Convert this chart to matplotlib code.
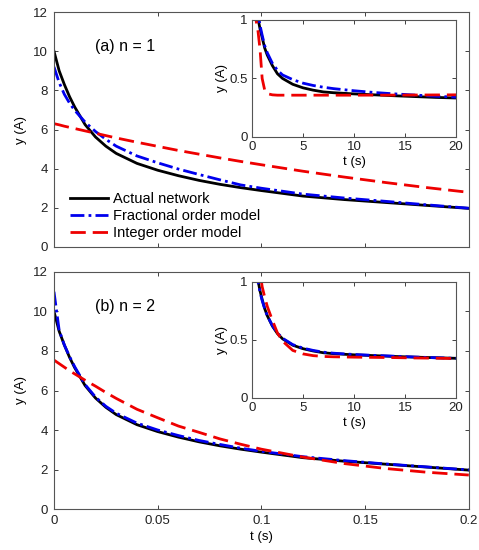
import numpy as np
import matplotlib
matplotlib.use('Agg')
from matplotlib import pyplot as plt

plt.rcParams['font.family'] = ['Liberation Sans', 'DejaVu Sans']
plt.rcParams['font.size'] = 9.5

# main panels, t in seconds
t = [0, 0.0025, 0.005, 0.0075, 0.01, 0.015, 0.02, 0.025, 0.03, 0.04, 0.05,
     0.06, 0.07, 0.08, 0.09, 0.1, 0.12, 0.14, 0.16, 0.18, 0.2]
actual = [10.0, 9.0, 8.3, 7.68, 7.15, 6.25, 5.62, 5.15, 4.78, 4.27, 3.92,
          3.64, 3.4, 3.2, 3.03, 2.88, 2.6, 2.42, 2.27, 2.12, 1.97]
frac1 = [9.2, 8.4, 7.8, 7.35, 6.98, 6.38, 5.9, 5.5, 5.15, 4.65, 4.3,
         3.98, 3.7, 3.43, 3.17, 3.0, 2.7, 2.5, 2.33, 2.15, 1.98]
int1 = [6.3, 6.24, 6.17, 6.11, 6.05, 5.93, 5.81, 5.69, 5.57, 5.35, 5.14,
        4.93, 4.74, 4.55, 4.37, 4.2, 3.87, 3.57, 3.29, 3.03, 2.79]
frac2 = [11.0, 9.05, 8.3, 7.72, 7.2, 6.3, 5.67, 5.2, 4.85, 4.35, 4.0,
         3.72, 3.47, 3.27, 3.08, 2.92, 2.65, 2.45, 2.28, 2.13, 1.98]
int2 = [7.54, 7.36, 7.18, 7.0, 6.84, 6.52, 6.22, 5.9, 5.6, 5.05, 4.62,
        4.2, 3.88, 3.55, 3.28, 3.03, 2.63, 2.3, 2.05, 1.86, 1.72]

# insets, t in seconds
ti = [0.5, 0.6, 0.8, 1.0, 1.25, 1.5, 2, 2.5, 3, 4, 5, 6, 7, 8, 10, 12, 14,
      16, 18, 20]
actual_i1 = [1.1, 1.01, 0.92, 0.85, 0.76, 0.7, 0.61, 0.54, 0.5, 0.45, 0.42,
             0.4, 0.385, 0.378, 0.368, 0.36, 0.352, 0.345, 0.338, 0.333]
frac_i1 = [1.15, 1.06, 0.95, 0.87, 0.78, 0.72, 0.63, 0.57, 0.53, 0.49, 0.46,
           0.44, 0.425, 0.413, 0.395, 0.38, 0.368, 0.358, 0.348, 0.34]
ti_int1 = [0.3, 0.4, 0.6, 0.8, 1.0, 1.25, 1.5, 2, 2.5, 3, 5, 10, 15, 20]
int_i1 = [1.1, 1.0, 0.9, 0.74, 0.5, 0.4, 0.37, 0.36, 0.357, 0.357, 0.357,
          0.357, 0.358, 0.36]
actual_i2 = [1.1, 1.01, 0.92, 0.85, 0.77, 0.71, 0.62, 0.555, 0.51, 0.455,
             0.425, 0.405, 0.39, 0.382, 0.372, 0.365, 0.358, 0.352, 0.347,
             0.342]
frac_i2 = [1.1, 1.0, 0.91, 0.84, 0.77, 0.71, 0.625, 0.56, 0.515, 0.46,
           0.43, 0.41, 0.395, 0.386, 0.375, 0.367, 0.36, 0.353, 0.347, 0.342]
int_i2 = [1.2, 1.15, 1.08, 0.96, 0.87, 0.79, 0.67, 0.56, 0.49, 0.41, 0.38,
          0.365, 0.358, 0.355, 0.352, 0.35, 0.348, 0.345, 0.343, 0.34]

lw = 2
red_dash = (5.5, 2.5)
blue_dd = (5, 1.5, 1, 1.5)


def style(ax):
    ax.tick_params(direction='in', top=True, right=True, length=3,
                   width=0.6, colors='#222222', labelsize=9.5, pad=4.5)
    for s in ax.spines.values():
        s.set_color('#555555')
        s.set_linewidth(0.8)


fig = plt.figure(figsize=(4.79, 5.5), dpi=100)

main_pos = [[0.1127, 0.551, 0.866, 0.427], [0.1127, 0.0745, 0.866, 0.431]]
inset_pos = [[0.526, 0.751, 0.426, 0.2127], [0.526, 0.2764, 0.426, 0.2109]]
mains = [(actual, frac1, int1, '(a) n = 1'), (actual, frac2, int2, '(b) n = 2')]
insets = [(ti, actual_i1, frac_i1, ti_int1, int_i1),
          (ti, actual_i2, frac_i2, ti, int_i2)]

for k in range(2):
    ya, yf, yi, lab = mains[k]
    ax = fig.add_axes(main_pos[k])
    ax.plot(t, ya, color='k', lw=lw, label='Actual network')
    ax.plot(t, yf, color='#0000ee', lw=lw, dashes=blue_dd,
            label='Fractional order model')
    ax.plot(t, yi, color='#ee0000', lw=lw, dashes=red_dash,
            label='Integer order model')
    ax.set_xlim(0, 0.2)
    ax.set_ylim(0, 12)
    ax.set_xticks([0, 0.05, 0.1, 0.15, 0.2])
    ax.set_yticks([0, 2, 4, 6, 8, 10, 12])
    ax.set_ylabel('y (A)', labelpad=4)
    ax.text(0.02, 10.25, lab, fontsize=11.5, va='center')
    style(ax)
    if k == 0:
        ax.set_xticklabels([])
        ax.legend(loc='lower left', bbox_to_anchor=(0.015, -0.015),
                  frameon=False, fontsize=10.5, handlelength=2.6,
                  handletextpad=0.35, labelspacing=0.2, borderaxespad=0.3)
    else:
        ax.set_xticklabels(['0', '0.05', '0.1', '0.15', '0.2'])
        ax.set_xlabel('t (s)', labelpad=3)

    tx, a_i, f_i, tr, r_i = insets[k]
    ai = fig.add_axes(inset_pos[k])
    ai.plot(tx, a_i, color='k', lw=lw)
    ai.plot(tx, f_i, color='#0000ee', lw=lw, dashes=blue_dd)
    ai.plot(tr, r_i, color='#ee0000', lw=lw, dashes=red_dash)
    ai.set_xlim(0, 20)
    ai.set_ylim(0, 1)
    ai.set_xticks([0, 5, 10, 15, 20])
    ai.set_yticks([0, 0.5, 1])
    ai.set_yticklabels(['0', '0.5', '1'])
    style(ai)
    ai.tick_params(pad=3)
    ai.set_xlabel('t (s)', labelpad=2)
    ai.set_ylabel('y (A)', labelpad=1)

fig.savefig('out.png', dpi=100)
